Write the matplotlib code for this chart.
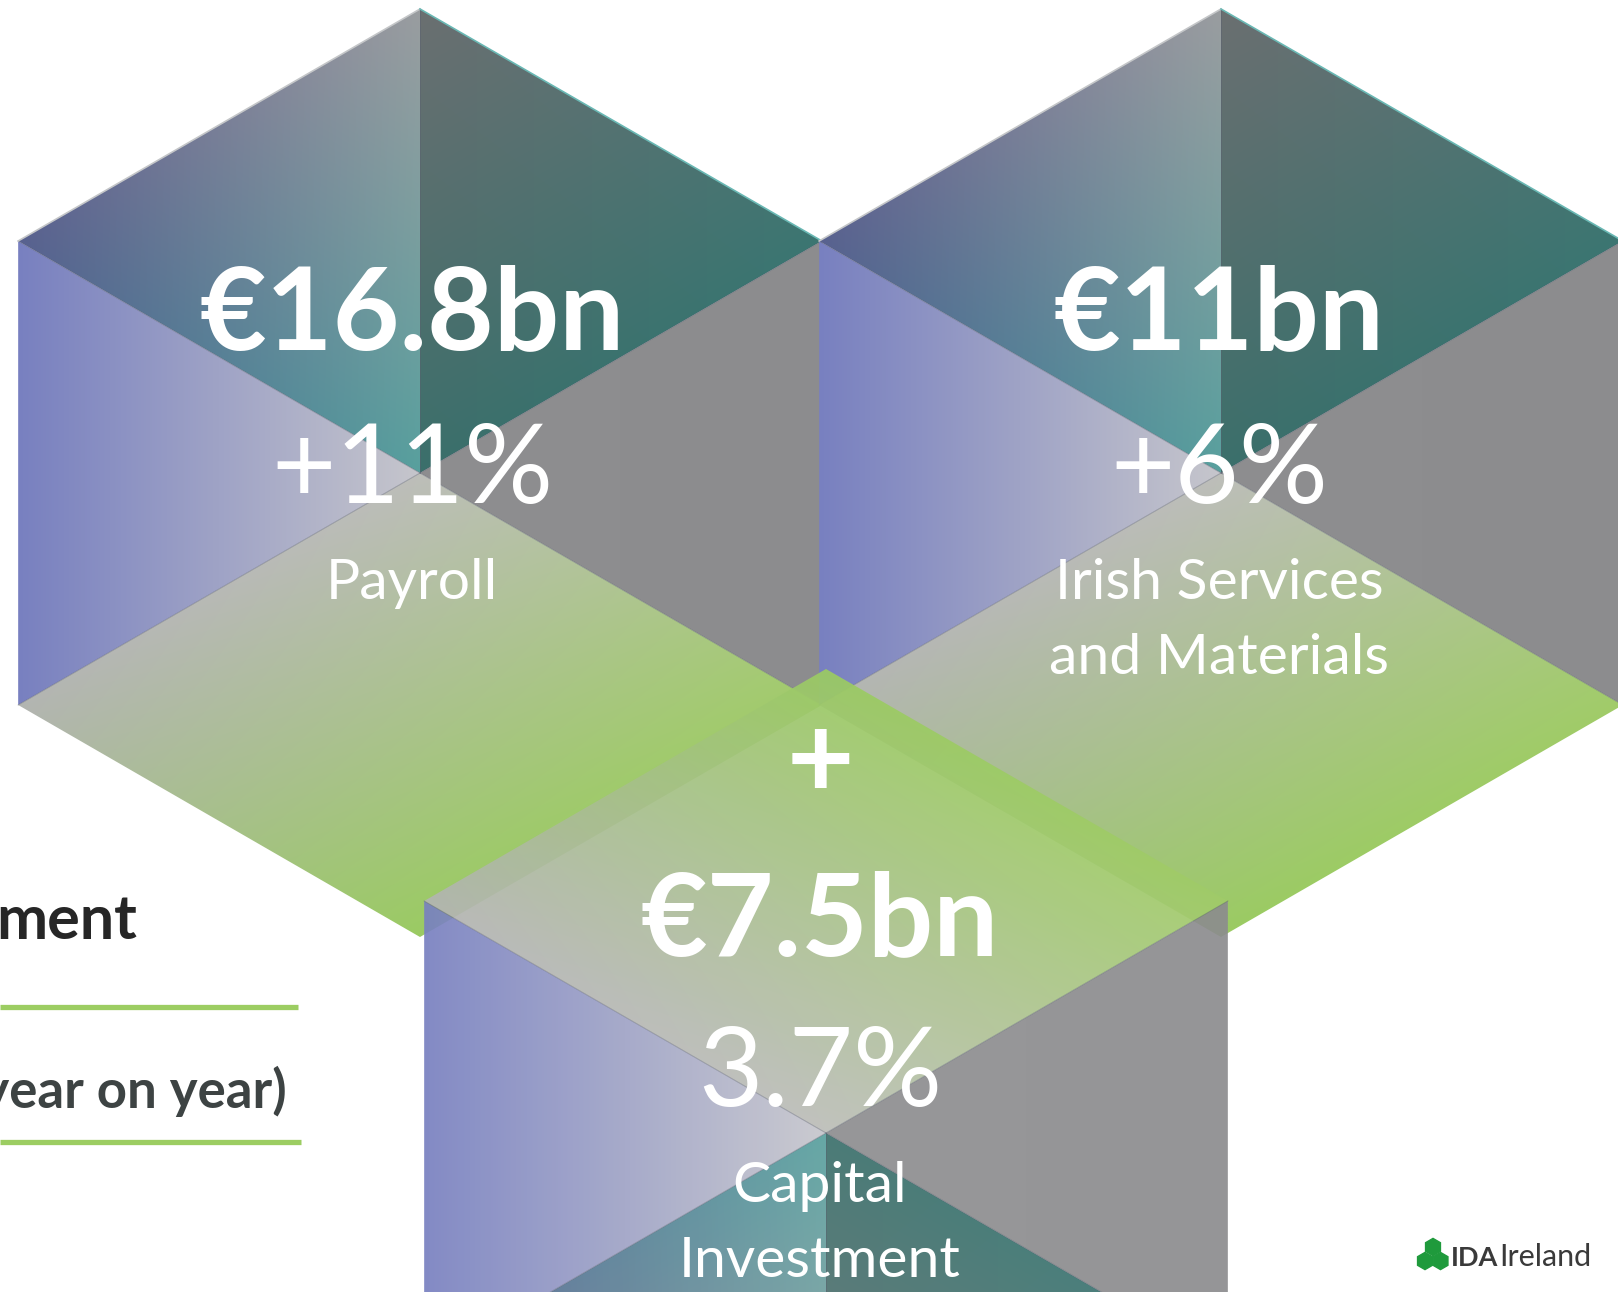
import numpy as np
import matplotlib
matplotlib.use("Agg")
import matplotlib.pyplot as plt
from matplotlib.patches import Polygon, RegularPolygon
from matplotlib.colors import to_rgb

# figures shown in the three cubes
amounts = ['€16.8bn', '€11bn', '€7.5bn']
growth = ['+11%', '+6%', '3.7%']
categories = ['Payroll', 'Irish Services\nand Materials', 'Capital\nInvestment']

W, H = 1618, 1292
R = 464  # hexagon radius in pixels

# cube layout: centre x, centre y, flipped, text x, amount y, growth y, label y
cubes = [
    (420, 473, False, 412, 349, 503, 599),
    (1221, 473, False, 1219, 349, 503, 599),
    (826, 1133, True, 820, 955, 1106, 1202),
]

FONT = 'Lato'


def shade_tri(ax, pts, cols, alpha=1.0, z=1):
    pts = np.asarray(pts, float)
    x0, y0 = np.floor(pts.min(0))
    x1, y1 = np.ceil(pts.max(0))
    xs = np.arange(x0, x1 + 1)
    ys = np.arange(y0, y1 + 1)
    X, Y = np.meshgrid(xs, ys)
    (xa, ya), (xb, yb), (xc, yc) = pts
    det = (yb - yc) * (xa - xc) + (xc - xb) * (ya - yc)
    l1 = ((yb - yc) * (X - xc) + (xc - xb) * (Y - yc)) / det
    l2 = ((yc - ya) * (X - xc) + (xa - xc) * (Y - yc)) / det
    lam = np.clip(np.stack([l1, l2, 1 - l1 - l2], -1), 0, 1)
    lam /= lam.sum(-1, keepdims=True)
    C = np.array([to_rgb(c) for c in cols])
    rgb = lam @ C
    img = np.dstack([rgb, np.full(X.shape, alpha)])
    im = ax.imshow(img, extent=(x0 - .5, x1 + .5, y0 - .5, y1 + .5),
                   origin='lower', interpolation='bilinear', zorder=z)
    im.set_clip_path(Polygon(pts, transform=ax.transData))


def shade_quad(ax, o, a, b, cols, alpha=1.0, z=1):
    # parallelogram o, a, a+b-o, b with bilinear colours
    o, a, b = (np.asarray(p, float) for p in (o, a, b))
    ab = a + b - o
    pts = np.array([o, a, ab, b])
    x0, y0 = np.floor(pts.min(0))
    x1, y1 = np.ceil(pts.max(0))
    xs = np.arange(x0, x1 + 1)
    ys = np.arange(y0, y1 + 1)
    X, Y = np.meshgrid(xs, ys)
    M = np.linalg.inv(np.column_stack([a - o, b - o]))
    u = M[0, 0] * (X - o[0]) + M[0, 1] * (Y - o[1])
    v = M[1, 0] * (X - o[0]) + M[1, 1] * (Y - o[1])
    u = np.clip(u, 0, 1)[..., None]
    v = np.clip(v, 0, 1)[..., None]
    co, ca, cb, cab = (np.array(to_rgb(c)) for c in cols)
    rgb = (1 - u) * (1 - v) * co + u * (1 - v) * ca + (1 - u) * v * cb + u * v * cab
    img = np.dstack([rgb, np.full(X.shape, alpha)])
    im = ax.imshow(img, extent=(x0 - .5, x1 + .5, y0 - .5, y1 + .5),
                   origin='lower', interpolation='bilinear', zorder=z)
    im.set_clip_path(Polygon(pts, transform=ax.transData))


def draw_cube(ax, cx, cy, flip, alpha=1.0, z=1):
    hw = R * np.cos(np.pi / 6)
    s = -1 if flip else 1
    T = (cx, cy - s * R)
    B = (cx, cy + s * R)
    UL = (cx - hw, cy - s * R / 2)
    UR = (cx + hw, cy - s * R / 2)
    LL = (cx - hw, cy + s * R / 2)
    LR = (cx + hw, cy + s * R / 2)
    C = (cx, cy)
    shade_tri(ax, [T, UL, C], ['#9a9da0', '#58618f', '#58a09e'], alpha, z)
    shade_tri(ax, [T, C, UR], ['#6b6f71', '#3b6f6b', '#3c7672'], alpha, z)
    shade_tri(ax, [UL, C, LL], ['#7880c0', '#c6c6cc', '#7880c0'], alpha, z)
    shade_tri(ax, [UR, C, LR], ['#8c8c8e', '#8e8e90', '#8c8c8e'], alpha, z)
    shade_quad(ax, LL, C, B, ['#b3b5b2', '#bdbeba', '#9bcb63', '#a1cc69'],
               alpha if not flip else min(1, alpha + 0.02), z)
    # thin seams between faces
    for p, q in [(T, C), (UL, C), (C, LR), (LL, C), (C, UR)]:
        ax.plot([p[0], q[0]], [p[1], q[1]], color='#5a6070', lw=0.7,
                alpha=0.45, zorder=z + 0.1)
    if not flip:
        ax.plot([UL[0], T[0]], [UL[1], T[1]], color='#c4c6c8', lw=1.2, zorder=z + 0.1)
        ax.plot([T[0], UR[0]], [T[1], UR[1]], color='#6ab8b4', lw=1.2, zorder=z + 0.1)


fig = plt.figure(figsize=(W / 100, H / 100), dpi=100)
ax = fig.add_axes([0, 0, 1, 1])

for i, (cx, cy, flip, tx, ya, yg, yl) in enumerate(cubes):
    draw_cube(ax, cx, cy, flip, alpha=0.92 if flip else 1.0, z=1 + i)

for i, (cx, cy, flip, tx, ya, yg, yl) in enumerate(cubes):
    ax.text(tx, ya, amounts[i], color='white', fontsize=83, fontweight='bold',
            family=FONT, ha='center', va='baseline', zorder=10)
    ax.text(tx, yg, growth[i], color='white', fontsize=80, family=FONT,
            ha='center', va='baseline', zorder=10)
    for k, line in enumerate(categories[i].split('\n')):
        ax.text(tx, yl + 75 * k, line, color='white', fontsize=41, family=FONT,
                ha='center', va='baseline', zorder=10)

# plus sign joining the third cube
ax.text(820, 764, '+', color='white', fontsize=84, fontweight='bold',
        family=FONT, ha='center', va='center', zorder=10)

# clipped heading on the left
ax.text(137, 939, 'ment', color='#262626', fontsize=44, fontweight='bold',
        family=FONT, ha='right', va='baseline', zorder=10)
ax.text(287, 1108, '(year on year)', color='#3d4343', fontsize=38,
        fontweight='bold', family=FONT, ha='right', va='baseline', zorder=10)
ax.plot([0, 298], [1007, 1007], color='#9ccd62', lw=3.8, solid_capstyle='butt', zorder=10)
ax.plot([0, 301], [1142, 1142], color='#9ccd62', lw=3.8, solid_capstyle='butt', zorder=10)

# IDA Ireland logo
hx_r = 8.6
for hx, hy in [(1433, 1247), (1425, 1261), (1440.5, 1261)]:
    ax.add_patch(RegularPolygon((hx, hy), 6, radius=hx_r, color='#1f9a3c', zorder=10))
ax.text(1451, 1266, 'IDA', color='#3a3a3a', fontsize=19.5, fontweight='bold',
        family=FONT, ha='left', va='baseline', zorder=10)
ax.text(1499, 1266, 'Ireland', color='#3a3a3a', fontsize=22,
        family=FONT, ha='left', va='baseline', zorder=10)

ax.set_aspect('auto')
ax.set_xlim(0, W)
ax.set_ylim(H, 0)
ax.axis('off')
fig.savefig('out.png', dpi=100, facecolor='white')
